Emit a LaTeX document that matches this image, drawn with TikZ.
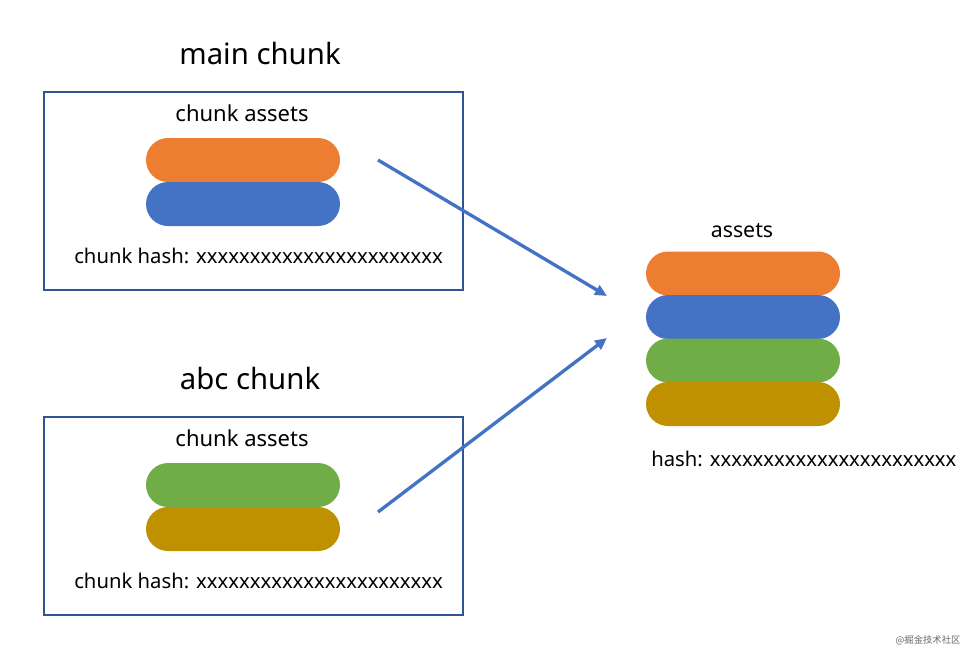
\documentclass[tikz,border=0pt]{standalone}
\usepackage{fontspec}
\setmainfont{Noto Sans}
\newfontfamily\cjk{Noto Sans CJK SC}
\usepackage{tikz}
\usetikzlibrary{positioning}
\usetikzlibrary{arrows.meta}
\definecolor{boxblue}{HTML}{2F5597}
\definecolor{assetorange}{HTML}{ED7D31}
\definecolor{assetblue}{HTML}{4472C4}
\definecolor{assetgreen}{HTML}{70AD47}
\definecolor{assetgold}{HTML}{BF9000}
\tikzstyle{chunkbox}=[rectangle,draw=boxblue,line width=1.5pt,minimum width=314.25pt,minimum height=148.5pt,inner sep=0pt]
\tikzstyle{pill}=[rectangle,rounded corners=16.5pt,minimum width=145.5pt,minimum height=33pt,inner sep=0pt]
\tikzstyle{title}=[font=\fontsize{22}{26}\selectfont,inner sep=0pt]
\tikzstyle{caption}=[font=\fontsize{15.2}{18}\selectfont,inner sep=0pt]
\tikzset{feed/.style={-{Triangle[length=9pt,width=8pt]},line width=2.5pt,assetblue}}

\begin{document}
\begin{tikzpicture}[x=0.75pt, y=-0.75pt]
  \useasboundingbox (0,0) rectangle (977,658);

  % the two chunks
  \node[chunkbox] (mainbox) at (253.5, 191) {};
  \node[chunkbox] (abcbox) at (253.5, 515.5) {};
  \node[title] (maintitle) at (260, 53) {main chunk};
  \node[title] (abctitle) at (250, 378) {abc chunk};
  \node[caption, font=\fontsize{16.5}{19}\selectfont] (mainassets) at (242, 113) {chunk assets};
  \node[caption, font=\fontsize{16.5}{19}\selectfont] (abcassets) at (242, 438) {chunk assets};

  \foreach \y/\name/\col in {160/mainorange/assetorange, 204/mainblue/assetblue, 485/abcgreen/assetgreen, 529/abcgold/assetgold}
        \node[pill, fill=\col] (\name) at (243, \y) {};

  \node[caption, anchor=west] (mainhash) at (74, 256) {chunk hash: xxxxxxxxxxxxxxxxxxxxxxx};
  \node[caption, anchor=west] (abchash) at (74, 581) {chunk hash: xxxxxxxxxxxxxxxxxxxxxxx};

  % merged assets
  \node[caption, font=\fontsize{16}{19}\selectfont] (assets) at (742, 231) {assets};
  \foreach \y/\name/\col in {273.5/allorange/assetorange, 317/allblue/assetblue, 360.5/allgreen/assetgreen, 404/allgold/assetgold}
        \node[pill, fill=\col] (\name) at (743, \y) {};
  \node[caption, anchor=west] (allhash) at (651, 459) {hash: xxxxxxxxxxxxxxxxxxxxxxx};

  \coordinate (mainout) at (378, 160);
  \coordinate (abcout) at (378, 512);
  \coordinate (mainin) at (607, 296);
  \coordinate (abcin) at (607, 338);
  \draw[feed] (mainout) -- (mainin);
  \draw[feed] (abcout) -- (abcin);

  \node[font=\cjk\fontsize{7}{8}\selectfont, text=black!60, inner sep=0pt] (mark) at (928, 640) {@掘金技术社区};

\end{tikzpicture}
\end{document}
